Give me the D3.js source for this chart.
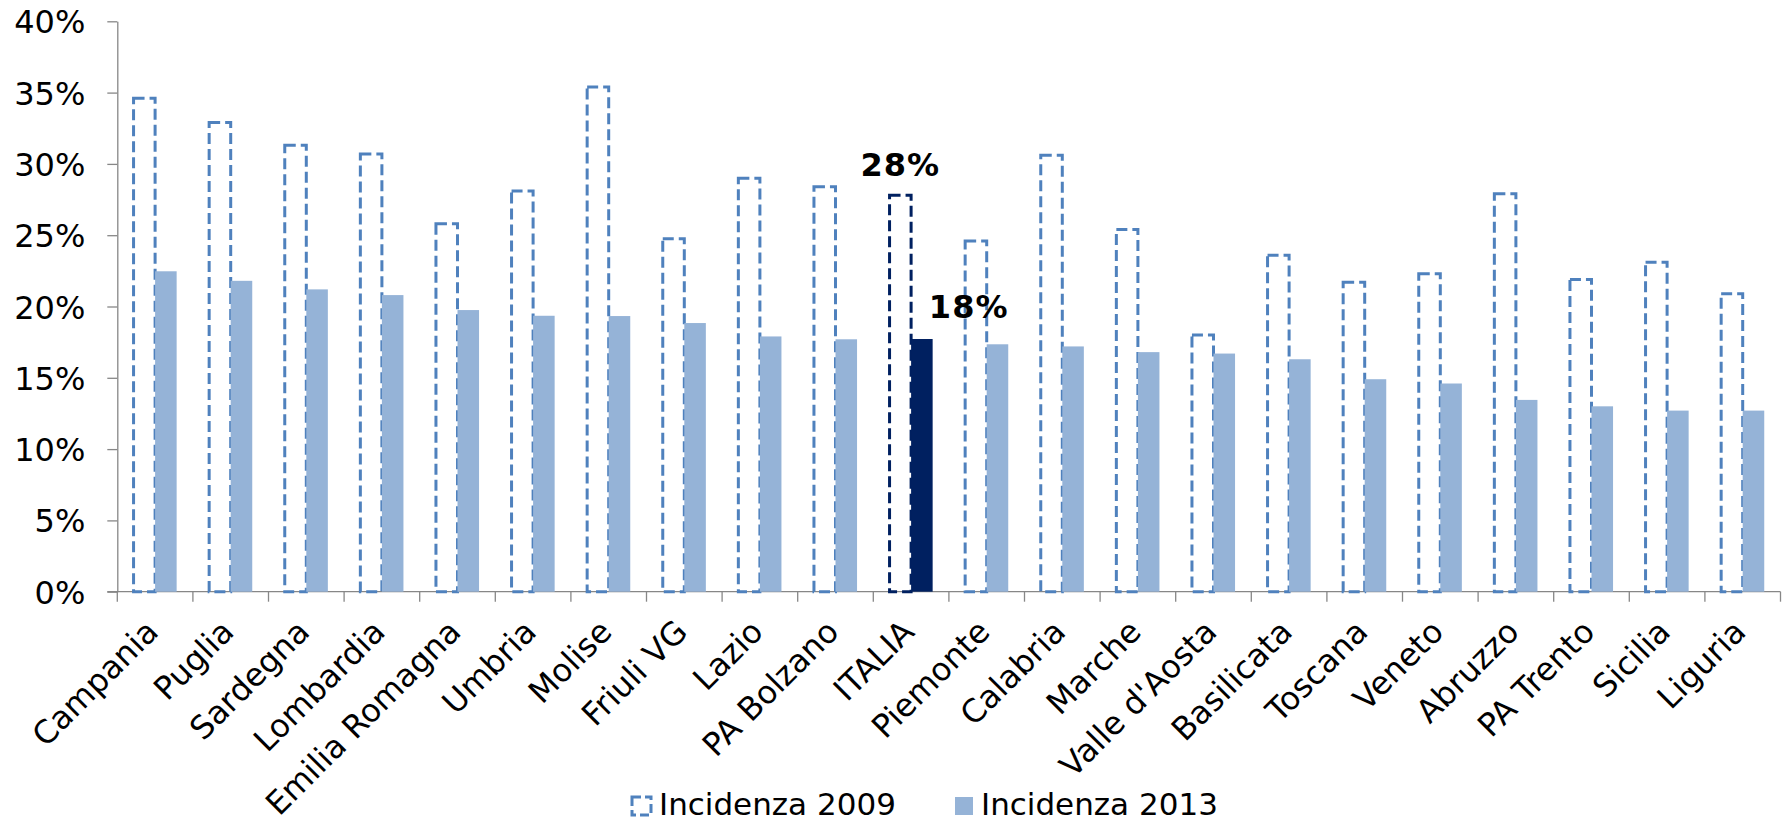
<!DOCTYPE html>
<html>
<head>
<meta charset="utf-8">
<script src="https://cdn.jsdelivr.net/npm/d3@7"></script>
<style>
  body { margin: 0; background: #fff; }
  svg { display: block; }
  text { font-family: "DejaVu Sans", Verdana, sans-serif; fill: #000; }
</style>
</head>
<body>
<svg id="chart" width="1785" height="823"></svg>
<script>
// Regions ordered by 2013 incidence, with the national figure in between
const categories = ["Campania", "Puglia", "Sardegna", "Lombardia", "Emilia Romagna", "Umbria",
  "Molise", "Friuli VG", "Lazio", "PA Bolzano", "ITALIA", "Piemonte", "Calabria", "Marche",
  "Valle d'Aosta", "Basilicata", "Toscana", "Veneto", "Abruzzo", "PA Trento", "Sicilia", "Liguria"];

const incidenza2009 = [0.346, 0.329, 0.313, 0.307, 0.258, 0.281, 0.354, 0.2475, 0.290, 0.284,
  0.278, 0.246, 0.306, 0.254, 0.180, 0.236, 0.217, 0.223, 0.279, 0.219, 0.231, 0.209];

const incidenza2013 = [0.2247, 0.218, 0.212, 0.208, 0.1975, 0.1935, 0.1933, 0.1884, 0.179, 0.177,
  0.1772, 0.1735, 0.172, 0.168, 0.167, 0.163, 0.149, 0.146, 0.1345, 0.130, 0.127, 0.127];

const yTickValues = [0, 0.05, 0.10, 0.15, 0.20, 0.25, 0.30, 0.35, 0.40];
const seriesNames = ["Incidenza 2009", "Incidenza 2013"];
const highlighted = "ITALIA";

const col2009 = "#4F81BD", col2013 = "#95B3D7", colNational = "#002060", axisCol = "#878787";
const dash = "11,5";

const svg = d3.select("#chart");
const plot = { left: 117.3, right: 1780.5, top: 21.3, bottom: 591.7 };

const x = d3.scaleBand().domain(categories).range([plot.left, plot.right]);
const y = d3.scaleLinear().domain([0, 0.40]).range([plot.bottom, plot.top]);
const pct = d3.format(".0%");
const barW = x.bandwidth() * 0.285;
const mid = c => x(c) + x.bandwidth() / 2;

// Y axis
svg.append("g")
  .attr("transform", `translate(${plot.left},0)`)
  .call(d3.axisLeft(y).tickValues(yTickValues).tickFormat(pct).tickSize(10).tickSizeOuter(0).tickPadding(22))
  .call(g => {
    g.attr("font-family", null).attr("font-size", null);
    g.select(".domain").attr("stroke", axisCol).attr("stroke-width", 1.3);
    g.selectAll(".tick line").attr("stroke", axisCol).attr("stroke-width", 1.3);
    g.selectAll(".tick text").attr("font-size", 32).attr("fill", "#000").attr("dy", "0.36em");
  });

// X axis line and category boundary ticks
const xAxis = svg.append("g");
xAxis.append("line")
  .attr("x1", plot.left - 10).attr("x2", plot.right)
  .attr("y1", y(0)).attr("y2", y(0))
  .attr("stroke", axisCol).attr("stroke-width", 1.3);
xAxis.selectAll("line.bound")
  .data(categories.map(c => x(c)).concat([plot.right]))
  .join("line").attr("class", "bound")
  .attr("x1", d => d).attr("x2", d => d)
  .attr("y1", y(0)).attr("y2", y(0) + 10)
  .attr("stroke", axisCol).attr("stroke-width", 1.3);

xAxis.selectAll("text.cat")
  .data(categories)
  .join("text").attr("class", "cat")
  .attr("text-anchor", "end")
  .attr("font-size", 32)
  .attr("transform", c => `translate(${mid(c) + 5},${y(0) + 42}) rotate(-45)`)
  .text(c => c);

// 2009 bars: open outlines with dashed border
svg.append("g").selectAll("rect")
  .data(categories)
  .join("rect")
  .attr("x", c => mid(c) - barW)
  .attr("width", barW)
  .attr("y", (c, i) => y(incidenza2009[i]))
  .attr("height", (c, i) => y(0) - y(incidenza2009[i]))
  .attr("fill", "none")
  .attr("stroke", c => c === highlighted ? colNational : col2009)
  .attr("stroke-width", 3)
  .attr("stroke-dasharray", dash);

// 2013 bars: solid fill
svg.append("g").selectAll("rect")
  .data(categories)
  .join("rect")
  .attr("x", c => mid(c))
  .attr("width", barW)
  .attr("y", (c, i) => y(incidenza2013[i]))
  .attr("height", (c, i) => y(0) - y(incidenza2013[i]))
  .attr("fill", c => c === highlighted ? colNational : col2013);

// Value labels on the national bars
const hi = categories.indexOf(highlighted);
svg.append("text")
  .attr("x", mid(highlighted) - barW / 2)
  .attr("y", y(incidenza2009[hi]) - 19)
  .attr("text-anchor", "middle")
  .attr("font-size", 32).attr("font-weight", "bold").attr("letter-spacing", 1)
  .text(pct(incidenza2009[hi]));
svg.append("text")
  .attr("x", mid(highlighted) + barW / 2 + 7)
  .attr("y", y(incidenza2013[hi]) - 21)
  .attr("text-anchor", "start")
  .attr("font-size", 32).attr("font-weight", "bold").attr("letter-spacing", 1)
  .text(pct(incidenza2013[hi]));

// Legend
const legend = svg.append("g");
legend.append("rect")
  .attr("x", 632).attr("y", 797).attr("width", 19).attr("height", 18)
  .attr("fill", "#fff").attr("stroke", col2009).attr("stroke-width", 3)
  .attr("stroke-dasharray", "9,4");
legend.append("text").attr("x", 659).attr("y", 815).attr("font-size", 31).text(seriesNames[0]);
legend.append("rect")
  .attr("x", 955).attr("y", 797).attr("width", 18).attr("height", 18)
  .attr("fill", col2013);
legend.append("text").attr("x", 981).attr("y", 815).attr("font-size", 31).text(seriesNames[1]);
</script>
</body>
</html>
